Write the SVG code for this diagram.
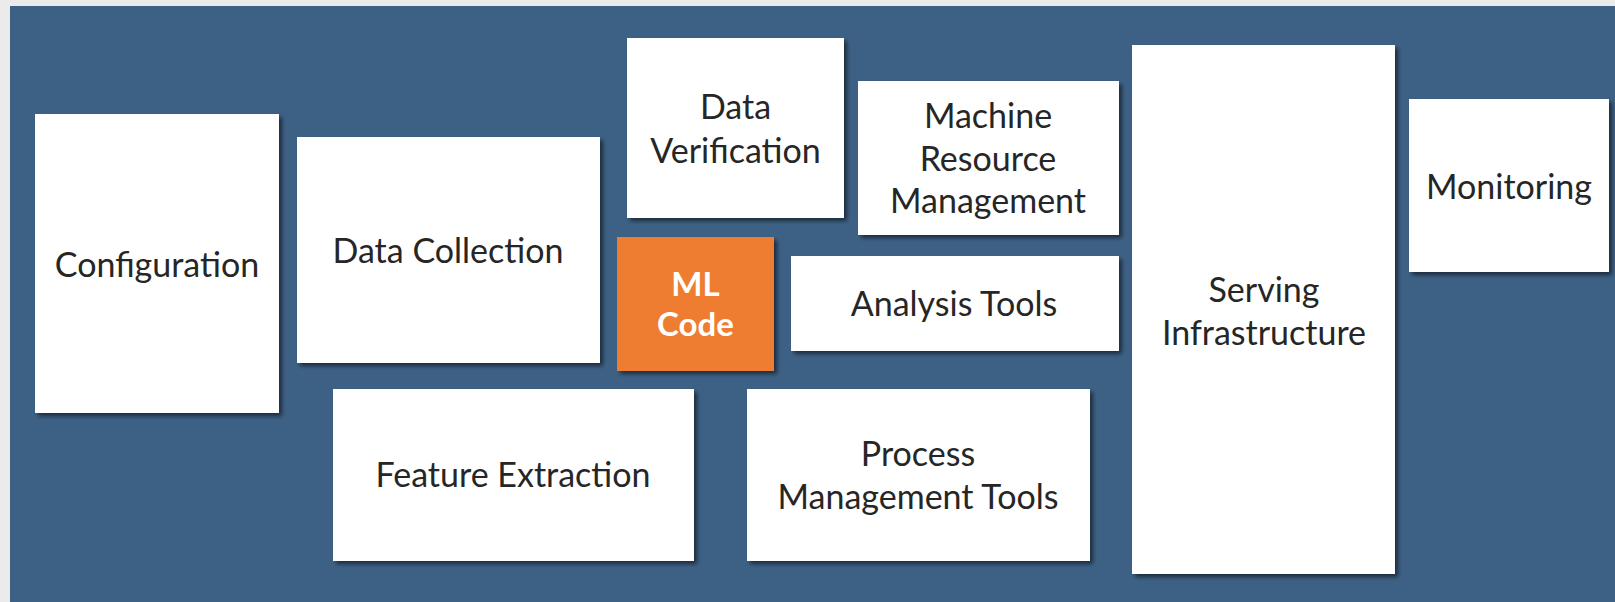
<svg xmlns="http://www.w3.org/2000/svg" width="1615" height="602" viewBox="0 0 1615 602">
<defs>
<filter id="sh" x="-10%" y="-10%" width="130%" height="130%">
<feDropShadow dx="3" dy="3" stdDeviation="2" flood-color="#000" flood-opacity="0.55"/>
</filter>
</defs>
<style>
.box{fill:#ffffff;filter:url(#sh)}
.ml{fill:#ee7d31;filter:url(#sh)}
.t{font-family:Lato,"Liberation Sans",sans-serif;font-size:34px;fill:#262626;text-anchor:middle}
.tw{font-family:Lato,"Liberation Sans",sans-serif;font-size:33px;font-weight:bold;fill:#ffffff;text-anchor:middle}
</style>
<rect x="0" y="0" width="1615" height="602" fill="#ebebeb"/>
<rect x="10" y="6" width="1605" height="596" fill="#3d6185"/>
<g id="configuration"><rect class="box" x="35" y="114" width="244" height="299"/><text class="t" x="157" y="277">Configuration</text></g>
<g id="data-collection"><rect class="box" x="297" y="137" width="303" height="226"/><text class="t" x="448" y="263">Data Collection</text></g>
<g id="data-verification"><rect class="box" x="627" y="38" width="217" height="180"/><text class="t" x="735.5" y="119">Data</text><text class="t" x="735.5" y="163">Verification</text></g>
<g id="machine-resource-management"><rect class="box" x="858" y="81" width="261" height="154"/><text class="t" x="988" y="128">Machine</text><text class="t" x="988" y="171">Resource</text><text class="t" x="988" y="213">Management</text></g>
<g id="ml-code"><rect class="ml" x="617" y="237" width="157" height="134"/><text class="tw" x="695.5" y="296">ML</text><text class="tw" x="695.5" y="336">Code</text></g>
<g id="analysis-tools"><rect class="box" x="791" y="256" width="328" height="95"/><text class="t" x="954" y="316">Analysis Tools</text></g>
<g id="serving-infrastructure"><rect class="box" x="1132" y="45" width="263" height="529"/><text class="t" x="1264" y="302">Serving</text><text class="t" x="1264" y="345">Infrastructure</text></g>
<g id="monitoring"><rect class="box" x="1409" y="99" width="200" height="173"/><text class="t" x="1509" y="199">Monitoring</text></g>
<g id="feature-extraction"><rect class="box" x="333" y="389" width="361" height="172"/><text class="t" x="513" y="487">Feature Extraction</text></g>
<g id="process-management-tools"><rect class="box" x="747" y="389" width="343" height="172"/><text class="t" x="918" y="466">Process</text><text class="t" x="918" y="509">Management Tools</text></g>
<g id="connectors"></g>
</svg>
